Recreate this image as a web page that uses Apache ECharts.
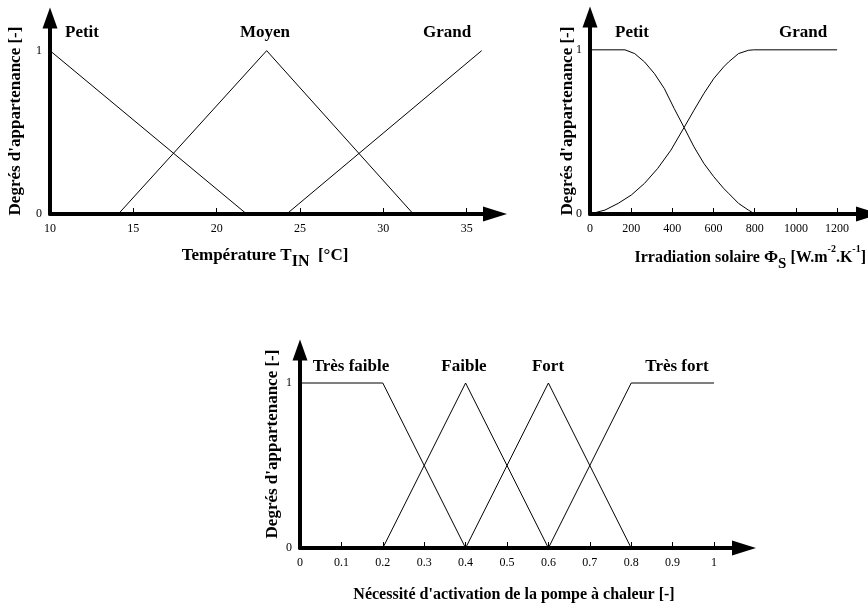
<!DOCTYPE html>
<html>
<head>
<meta charset="utf-8">
<script src="https://cdn.jsdelivr.net/npm/echarts@6/dist/echarts.min.js"></script>
<style>
  html, body { margin: 0; padding: 0; background: #fff; }
  #chart { width: 868px; height: 605px; }
</style>
</head>
<body>
<div id="chart"></div>
<script>
// Membership functions of the fuzzy controller inputs / output

// Indoor temperature T_IN [°C]
const tempTicks = [10, 15, 20, 25, 30, 35];
const tempPetit = [[10, 1], [21.8, 0]];
const tempMoyen = [[14.1, 0], [23, 1], [31.8, 0]];
const tempGrand = [[24.2, 0], [35.9, 1]];
const tempSets = ['Petit', 'Moyen', 'Grand'];

// Solar irradiation Phi_S
const irrTicks = [0, 200, 400, 600, 800, 1000, 1200];
const irrPetit = [[0, 1], [170, 1], [217, 0.977], [265, 0.926], [313, 0.855], [361, 0.764],
  [409, 0.642], [457, 0.527], [505, 0.409], [553, 0.308], [601, 0.227], [649, 0.156],
  [673, 0.126], [721, 0.065], [769, 0.024], [800, 0]];
const irrGrand = [[0, 0], [73, 0.024], [137, 0.065], [201, 0.116], [265, 0.187], [329, 0.278],
  [393, 0.389], [457, 0.527], [505, 0.632], [553, 0.734], [601, 0.825], [649, 0.896],
  [673, 0.926], [721, 0.977], [769, 0.997], [795, 1], [1200, 1]];
const irrSets = ['Petit', 'Grand'];

// Heat-pump activation need [-]
const needTicks = [0, 0.1, 0.2, 0.3, 0.4, 0.5, 0.6, 0.7, 0.8, 0.9, 1];
const needTresFaible = [[0, 1], [0.2, 1], [0.4, 0]];
const needFaible = [[0.2, 0], [0.4, 1], [0.6, 0]];
const needFort = [[0.4, 0], [0.6, 1], [0.8, 0]];
const needTresFort = [[0.6, 0], [0.8, 1], [1, 1]];
const needSets = ['Très faible', 'Faible', 'Fort', 'Très fort'];

// Membership degree ticks
const memberTicks = [0, 1];

const SERIF = '"Liberation Serif", "DejaVu Serif", serif';
const BOLD = 'bold 17px ' + SERIF;

function xAxisDef(gridIndex, min, max, ticks) {
  return {
    type: 'value', gridIndex, min, max,
    splitLine: { show: false },
    axisLine: { lineStyle: { color: '#000', width: 4 }, symbol: ['none', 'triangle'], symbolSize: [15, 24] },
    axisTick: { inside: true, length: 6, lineStyle: { color: '#000', width: 1 }, customValues: ticks.slice(1) },
    axisLabel: { margin: 9, color: '#000', fontFamily: SERIF, fontSize: 12, customValues: ticks,
      formatter: v => String(v) }
  };
}
function yAxisDef(gridIndex) {
  return {
    type: 'value', gridIndex, min: 0, max: 1.2,
    splitLine: { show: false },
    axisLine: { lineStyle: { color: '#000', width: 4 }, symbol: ['none', 'triangle'], symbolSize: [15, 21] },
    axisTick: { show: false },
    axisLabel: { margin: 8, color: '#000', fontFamily: SERIF, fontSize: 12, customValues: memberTicks,
      formatter: v => String(v) }
  };
}
function lineSeries(idx, name, data) {
  return {
    type: 'line', name, data, xAxisIndex: idx, yAxisIndex: idx,
    symbol: 'none', clip: false,
    lineStyle: { color: '#000', width: 1 }, animation: false
  };
}
function label(text, x, y) {
  return { type: 'text', x, y, style: { text, font: BOLD, fill: '#000', align: 'center', verticalAlign: 'middle' } };
}
function yTitle(x, y) {
  return { type: 'text', x, y, rotation: Math.PI / 2,
    style: { text: "Degrés d'appartenance [-]", font: 'bold 17px ' + SERIF, fill: '#000', align: 'center', verticalAlign: 'middle' } };
}
const richBase = {
  m: { fontFamily: SERIF, fontWeight: 'bold', fontSize: 17, lineHeight: 20, verticalAlign: 'middle', fill: '#000' },
  sub: { fontFamily: SERIF, fontWeight: 'bold', fontSize: 16, lineHeight: 28, verticalAlign: 'bottom', fill: '#000' },
  sup: { fontFamily: SERIF, fontWeight: 'bold', fontSize: 10, lineHeight: 24, verticalAlign: 'top', fill: '#000' },
  phi: { fontFamily: SERIF, fontWeight: 'bold', fontSize: 18, lineHeight: 20, verticalAlign: 'middle', fill: '#000' }
};
const richIrr = {
  m: Object.assign({}, richBase.m, { fontSize: 16 }),
  sub: Object.assign({}, richBase.sub, { fontSize: 15 }),
  sup: richBase.sup,
  phi: Object.assign({}, richBase.phi, { fontSize: 17 })
};

const chart = echarts.init(document.getElementById('chart'));
chart.setOption({
  backgroundColor: '#fff',
  animation: false,
  grid: [
    { left: 50, top: 18, width: 445, height: 196 },
    { left: 590, top: 17, width: 281, height: 197 },
    { left: 300, top: 350, width: 444, height: 198 }
  ],
  xAxis: [
    xAxisDef(0, 10, 36.7, tempTicks),
    xAxisDef(1, 0, 1350, irrTicks),
    xAxisDef(2, 0, 1.0725, needTicks)
  ],
  yAxis: [yAxisDef(0), yAxisDef(1), yAxisDef(2)],
  series: [
    lineSeries(0, tempSets[0], tempPetit),
    lineSeries(0, tempSets[1], tempMoyen),
    lineSeries(0, tempSets[2], tempGrand),
    lineSeries(1, irrSets[0], irrPetit),
    lineSeries(1, irrSets[1], irrGrand),
    lineSeries(2, needSets[0], needTresFaible),
    lineSeries(2, needSets[1], needFaible),
    lineSeries(2, needSets[2], needFort),
    lineSeries(2, needSets[3], needTresFort)
  ],
  graphic: [
    label(tempSets[0], 82, 33), label(tempSets[1], 265, 33), label(tempSets[2], 447, 33),
    label(irrSets[0], 632, 33), label(irrSets[1], 803, 33),
    label(needSets[0], 351, 367), label(needSets[1], 464, 367), label(needSets[2], 548, 367), label(needSets[3], 677, 367),
    yTitle(16, 121), yTitle(568, 121), yTitle(273, 444),
    { type: 'text', x: 265, y: 256, style: { text: '{m|Température T}{sub|IN}{m|  [°C]}', rich: richBase, align: 'center', verticalAlign: 'middle' } },
    { type: 'text', x: 866, y: 258, style: { text: '{m|Irradiation solaire }{phi|Φ}{sub|S}{m| [W.m}{sup|-2}{m|.K}{sup|-1}{m|]}', rich: richIrr, align: 'right', verticalAlign: 'middle' } },
    { type: 'text', x: 514, y: 595, style: { text: "Nécessité d'activation de la pompe à chaleur [-]", font: 'bold 16px ' + SERIF, fill: '#000', align: 'center', verticalAlign: 'middle' } }
  ]
});
</script>
</body>
</html>
